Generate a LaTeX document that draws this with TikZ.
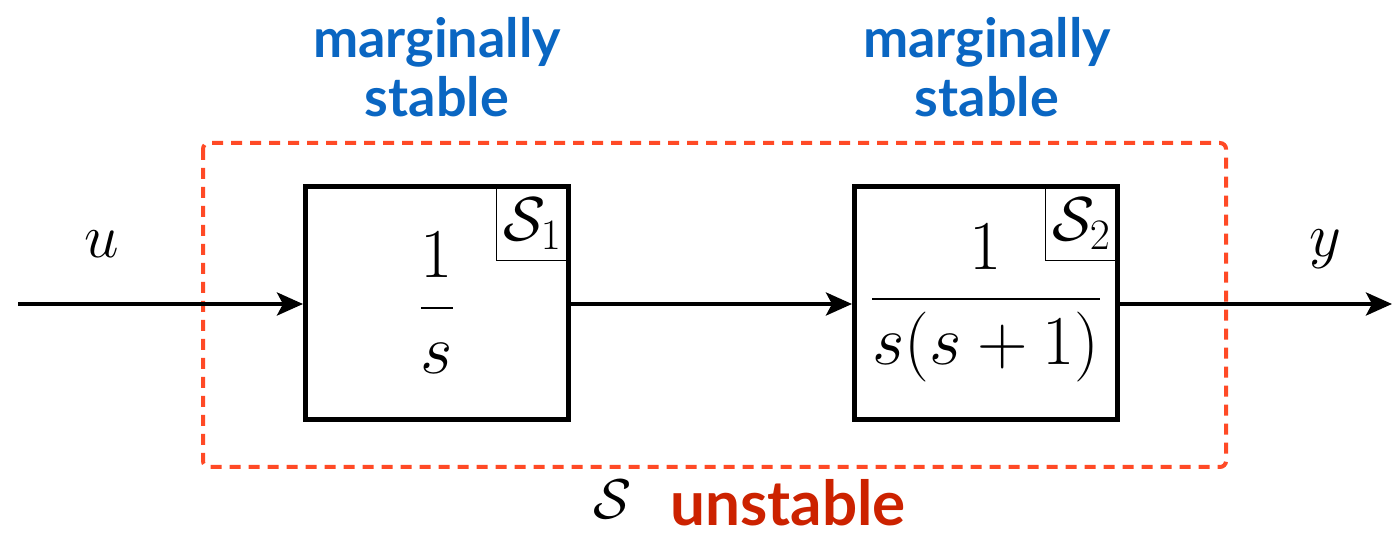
\RequirePackage{fix-cm}
\documentclass[tikz,border=0pt]{standalone}
\usepackage{fontspec}
\usepackage{amsmath}
\newfontfamily\labelfont{Lato}
\usetikzlibrary{arrows.meta}
\definecolor{margblue}{HTML}{0A66C2}
\definecolor{unstred}{HTML}{CC2200}
\definecolor{dashred}{HTML}{FF4A26}
\newcommand\tagsize{\fontsize{31}{31}\selectfont}
\begin{document}
\begin{tikzpicture}[x=0.5pt,y=-0.5pt,
  blockbox/.style={draw,line width=2.5pt,minimum width=131.5pt,minimum height=116.5pt,inner sep=0pt},
  tagbox/.style={draw,line width=0.7pt,minimum width=36pt,minimum height=37pt,inner sep=0pt,outer sep=0pt,anchor=north east},
  sig/.style={line width=2pt,-{Stealth[length=13pt,width=11.5pt,inset=3pt]}},
  note/.style={font=\labelfont\bfseries\fontsize{27}{29.5}\selectfont,align=center},
  mathlbl/.style={font=\fontsize{31}{31}\selectfont}]
\useasboundingbox (0,0) rectangle (1392,533);
% surrounding system
\draw[dashred,line width=2pt,dash pattern=on 5.5pt off 4pt,rounded corners=3pt] (203,143) rectangle (1226,467);
% blocks
\node[blockbox] (b1) at (437,303) {\fontsize{35}{35}\selectfont$\dfrac{1}{s}$};
\node[blockbox] (b2) at (986,303) {\fontsize{35}{35}\selectfont$\dfrac{1}{s(s+1)}$};
\node[tagbox] (t1) at ([shift={(-1.25pt,-1.25pt)}]b1.north east) {\tagsize$\mathcal{S}_1$};
\node[tagbox] (t2) at ([shift={(-1.25pt,-1.25pt)}]b2.north east) {\tagsize$\mathcal{S}_2$};
% signals
\coordinate (in) at (18,304);
\coordinate (out) at (1392,304);
\draw[sig] (in) -- (b1.west |- in);
\draw[sig] (b1.east |- in) -- (b2.west |- in);
\draw[sig] (b2.east |- in) -- (out);
\node[mathlbl] (u) at (102,244) {$u$};
\node[mathlbl] (y) at (1325,249) {$y$};
% annotations
\node[note,text=margblue] (m1) at (437,67) {marginally\\stable};
\node[note,text=margblue] (m2) at (987,67) {marginally\\stable};
\node[anchor=base,inner sep=0pt,font=\fontsize{28}{28}\selectfont] (S) at (613,519) {$\mathcal{S}$};
\node[note,text=unstred,anchor=base west,font=\labelfont\bfseries\fontsize{31}{31}\selectfont,inner sep=0pt] (un) at (670,526) {unstable};
\end{tikzpicture}
\end{document}
